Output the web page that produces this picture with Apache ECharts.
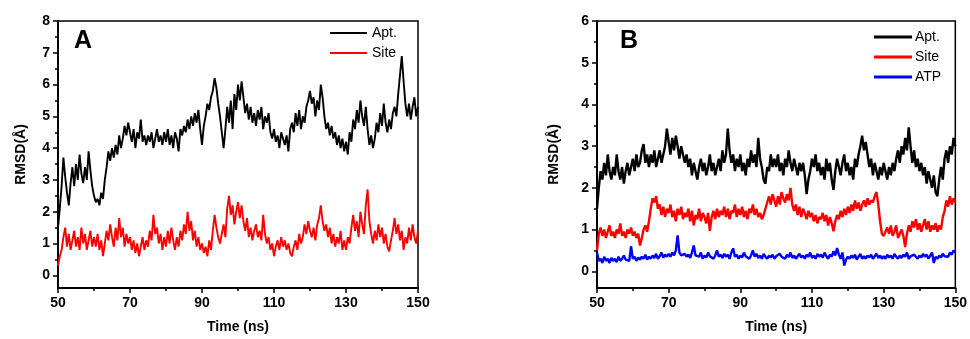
<!DOCTYPE html>
<html><head><meta charset="utf-8">
<script src="https://cdn.jsdelivr.net/npm/echarts@6/dist/echarts.min.js"></script>
<style>html,body{margin:0;padding:0;background:#fff}#c{width:970px;height:339px}</style>
</head><body><div id="c"></div>
<script>
// time sampling (ns), 0.5 ns step from 50 to 150
const tStart = 50, tStep = 0.5, nPts = 201;
const xMajor = [50, 70, 90, 110, 130, 150];
const xMinor = [60, 80, 100, 120, 140];
const yMajorA = [0, 1, 2, 3, 4, 5, 6, 7, 8];
const yMinorA = [0.5, 1.5, 2.5, 3.5, 4.5, 5.5, 6.5, 7.5];
const yMajorB = [0, 1, 2, 3, 4, 5, 6];
const yMinorB = [0.5, 1.5, 2.5, 3.5, 4.5, 5.5];

// Panel A
const aptA = [
1.5,2.1,2.8,3.7,3.1,2.6,2.2,2.9,3.4,2.8,
3.5,3.0,3.8,3.2,2.9,3.4,3.0,3.9,3.3,2.8,
2.5,2.3,2.4,2.2,2.6,2.4,3.0,3.4,3.9,3.6,
4.0,3.7,4.1,3.8,4.4,4.0,4.3,4.7,4.4,4.8,
4.5,4.2,4.6,4.0,4.5,4.3,4.9,4.2,4.4,4.1,
4.4,4.2,4.5,4.0,4.3,4.6,4.2,4.4,4.1,4.5,
4.2,4.6,4.1,4.4,4.0,4.5,4.3,3.9,4.6,4.4,
4.7,4.5,4.9,4.6,5.0,4.7,5.1,4.8,5.2,4.6,
4.1,4.7,5.0,5.4,5.2,5.6,5.8,6.2,5.9,5.4,
5.0,4.5,4.0,4.6,5.3,4.8,5.5,4.6,5.7,5.2,
6.0,5.5,6.1,5.6,5.1,5.4,4.9,5.3,4.8,5.1,
4.7,5.2,4.9,5.3,4.6,5.0,4.8,5.1,4.5,4.3,
4.6,4.2,4.4,4.0,4.5,4.3,4.1,4.4,3.9,4.6,
4.8,4.5,5.1,4.7,5.2,4.6,5.0,4.8,5.3,5.5,
5.8,5.4,5.6,5.0,5.5,5.2,6.0,5.6,5.0,4.6,
4.8,4.4,4.7,4.3,4.5,4.1,4.4,4.0,4.3,3.9,
4.2,3.8,4.5,4.2,4.9,4.6,5.2,4.8,5.5,5.0,
4.7,5.3,4.6,4.1,4.4,4.0,4.3,4.8,4.5,5.1,
4.7,5.4,4.8,4.5,4.9,4.6,5.1,5.3,5.0,5.7,
6.3,6.9,6.1,5.4,5.0,5.4,4.9,5.3,5.6,5.0,
5.3];
const siteA = [
0.3,0.6,0.8,1.2,1.5,0.9,1.3,0.8,1.1,1.4,
0.9,1.2,0.8,1.5,1.0,1.3,0.8,1.1,1.4,0.9,
1.2,0.9,1.3,0.8,1.1,0.6,1.0,1.4,1.1,1.6,
1.2,0.9,1.5,1.1,1.8,1.2,1.5,0.9,1.3,1.0,
1.2,0.8,1.1,0.7,1.0,0.6,0.9,1.2,0.8,1.1,
0.9,1.4,1.1,1.9,1.3,1.5,1.0,1.3,0.8,1.2,
0.9,1.4,1.0,1.5,1.1,0.8,1.2,0.9,1.4,1.1,
1.6,1.3,2.0,1.4,1.7,1.1,1.4,0.9,1.2,0.8,
1.0,0.7,0.9,0.6,1.1,0.8,1.4,1.9,1.5,1.2,
1.0,1.3,1.6,1.2,2.1,2.5,1.9,2.2,1.6,2.0,
2.3,1.8,2.2,1.7,1.4,1.8,1.2,1.5,1.1,1.4,
1.6,1.2,1.4,1.1,1.9,1.3,1.0,1.2,0.8,1.0,
0.6,0.9,1.1,0.8,1.2,0.9,1.1,0.8,1.0,0.7,
0.6,0.9,1.1,0.8,1.3,1.0,1.2,1.6,1.3,1.7,
1.4,1.2,1.5,1.1,1.6,1.8,2.2,1.7,1.4,1.6,
1.2,1.5,1.0,1.3,0.9,1.2,1.0,1.4,0.8,1.1,
0.8,1.2,1.0,1.5,1.9,1.4,1.7,1.2,2.0,1.6,
1.3,2.2,2.7,1.7,1.3,1.0,1.4,1.1,1.6,1.2,
1.5,1.0,1.3,0.9,0.75,1.1,1.4,1.8,1.3,1.6,
1.1,1.4,0.8,1.2,1.0,1.5,1.1,1.6,1.2,1.0,
1.4];

// Panel B
const aptB = [
1.5,2.0,2.4,2.2,2.6,2.3,2.8,2.4,2.2,2.5,
2.3,2.8,2.4,2.2,2.5,2.1,2.4,2.6,2.3,2.5,
2.7,2.4,2.8,2.5,2.6,2.9,3.05,2.6,2.8,2.5,
2.8,2.6,2.9,2.5,2.7,2.9,2.6,2.8,3.0,3.42,
3.1,2.8,3.2,2.9,3.25,3.0,2.7,3.0,2.8,2.6,
2.8,2.5,2.7,2.3,2.6,2.4,2.2,2.5,2.7,2.4,
2.6,2.3,2.5,2.8,2.4,2.6,2.3,2.5,2.7,2.4,
2.9,2.6,2.8,3.42,2.9,2.6,2.8,2.4,2.7,2.5,
2.8,2.4,2.6,2.3,2.7,2.5,2.9,2.6,2.8,2.5,
3.2,2.7,2.5,2.2,2.1,2.5,2.4,2.8,2.5,2.7,
2.5,2.8,2.4,2.6,2.3,2.7,2.5,2.9,2.6,2.4,
2.7,2.5,2.3,2.6,2.4,2.6,2.3,1.85,2.2,2.4,
2.7,2.5,2.8,2.4,2.6,2.3,2.5,2.2,2.7,2.4,
2.6,2.2,1.95,2.4,2.7,2.5,2.3,2.6,2.8,2.4,
2.6,2.3,2.5,2.2,2.7,2.5,2.8,3.0,3.25,2.9,
3.1,2.8,2.5,2.7,2.3,2.6,2.4,2.2,2.5,2.3,
2.6,2.4,2.2,2.5,2.3,2.6,2.4,2.7,2.9,2.6,
3.0,2.8,3.2,2.9,3.45,3.0,2.6,2.9,2.5,2.7,
2.4,2.6,2.3,2.5,2.1,2.4,2.2,2.0,2.3,1.9,
1.8,2.2,2.5,2.2,2.7,2.9,2.6,3.0,2.8,3.2,
3.0];
const siteB = [
0.5,0.9,1.05,0.85,1.0,0.8,0.95,1.1,0.85,0.95,
0.8,1.0,0.9,1.15,0.85,0.95,0.8,1.0,0.9,1.05,
0.85,0.95,0.8,0.9,0.62,0.8,1.0,1.1,0.95,1.2,
1.5,1.75,1.65,1.8,1.5,1.6,1.35,1.55,1.3,1.5,
1.4,1.6,1.3,1.45,1.2,1.5,1.35,1.55,1.25,1.4,
1.3,1.5,1.2,1.45,1.1,1.35,1.25,1.5,1.2,1.4,
1.3,1.15,1.4,0.97,1.3,1.45,1.25,1.5,1.3,1.45,
1.35,1.55,1.3,1.5,1.25,1.45,1.4,1.6,1.3,1.5,
1.35,1.55,1.3,1.45,1.25,1.5,1.4,1.6,1.35,1.5,
1.3,1.4,1.25,1.35,1.5,1.65,1.8,1.6,1.85,1.7,
1.55,1.8,1.6,1.9,1.75,1.65,1.85,1.7,2.0,1.6,
1.45,1.6,1.35,1.55,1.3,1.5,1.4,1.25,1.45,1.3,
1.4,1.2,1.35,1.15,1.3,1.25,1.4,1.2,1.35,1.1,
1.3,1.15,0.96,1.2,1.35,1.25,1.45,1.3,1.5,1.35,
1.55,1.4,1.6,1.45,1.7,1.5,1.65,1.45,1.6,1.7,
1.55,1.75,1.6,1.7,1.65,1.8,1.9,1.6,1.2,0.9,
0.85,0.95,1.05,0.9,1.1,0.85,0.95,1.1,0.8,0.9,
1.0,0.85,0.58,0.9,1.1,0.95,1.2,1.05,1.25,1.0,
1.15,0.95,1.1,1.25,1.0,1.2,0.95,1.1,1.0,1.15,
0.95,1.1,1.0,1.3,1.45,1.7,1.55,1.8,1.6,1.75,
1.65];
const atpB = [
0.45,0.25,0.3,0.2,0.35,0.25,0.3,0.2,0.32,0.25,
0.3,0.22,0.35,0.25,0.3,0.38,0.28,0.32,0.25,0.6,
0.3,0.35,0.25,0.33,0.28,0.35,0.3,0.4,0.28,0.35,
0.3,0.38,0.32,0.42,0.3,0.36,0.45,0.33,0.4,0.35,
0.42,0.35,0.45,0.38,0.5,0.86,0.45,0.38,0.35,0.42,
0.35,0.4,0.32,0.45,0.62,0.38,0.42,0.35,0.45,0.3,
0.38,0.33,0.45,0.36,0.4,0.3,0.38,0.5,0.35,0.4,
0.32,0.42,0.35,0.4,0.3,0.45,0.55,0.35,0.4,0.3,
0.38,0.33,0.45,0.36,0.4,0.3,0.38,0.5,0.35,0.42,
0.32,0.38,0.3,0.42,0.35,0.3,0.38,0.33,0.4,0.3,
0.36,0.32,0.42,0.35,0.38,0.3,0.4,0.34,0.45,0.32,
0.38,0.3,0.36,0.42,0.33,0.38,0.3,0.4,0.35,0.45,
0.32,0.38,0.3,0.42,0.35,0.4,0.33,0.45,0.36,0.3,
0.4,0.35,0.48,0.38,0.56,0.4,0.3,0.45,0.14,0.28,
0.35,0.3,0.38,0.32,0.4,0.28,0.35,0.42,0.3,0.36,
0.3,0.38,0.33,0.4,0.3,0.36,0.42,0.32,0.38,0.3,
0.36,0.3,0.4,0.33,0.38,0.3,0.42,0.35,0.3,0.38,
0.32,0.4,0.35,0.45,0.3,0.36,0.32,0.4,0.35,0.3,
0.38,0.33,0.42,0.35,0.4,0.3,0.38,0.45,0.2,0.35,
0.3,0.38,0.33,0.42,0.36,0.4,0.35,0.45,0.4,0.5,
0.45];

const times = Array.from({length: nPts}, (_, i) => tStart + i * tStep);
const pairs = arr => times.map((t, i) => [t, arr[i]]);

const FONT = '"Liberation Sans", Arial, sans-serif';
const labelStyle = {color: '#000', fontFamily: FONT, fontWeight: 'bold', fontSize: 14};

function xAxes(gi) {
  return [
    {type: 'value', gridIndex: gi, position: 'bottom', min: 50, max: 150,
     name: 'Time (ns)', nameLocation: 'middle', nameGap: 32,
     nameTextStyle: {color: '#000', fontFamily: FONT, fontWeight: 'bold', fontSize: 14},
     axisLine: {show: true, onZero: false, lineStyle: {color: '#000', width: 2}},
     axisTick: {show: true, inside: false, length: 5, customValues: xMajor, lineStyle: {color: '#000', width: 1.5}},
     axisLabel: Object.assign({show: true, margin: 8, customValues: xMajor}, labelStyle),
     splitLine: {show: false}},
    {type: 'value', gridIndex: gi, position: 'bottom', offset: 0, min: 50, max: 150,
     axisLine: {show: false, onZero: false},
     axisTick: {show: true, inside: false, length: 3, customValues: xMinor, lineStyle: {color: '#000', width: 1.5}},
     axisLabel: {show: false}, splitLine: {show: false}}
  ];
}
function yAxes(gi, max, major, minor, nameGap) {
  return [
    {type: 'value', gridIndex: gi, position: 'left', min: -0.4, max: max,
     name: 'RMSD(Å)', nameLocation: 'middle', nameGap: nameGap,
     nameTextStyle: {color: '#000', fontFamily: FONT, fontWeight: 'bold', fontSize: 14},
     axisLine: {show: true, onZero: false, lineStyle: {color: '#000', width: 2}},
     axisTick: {show: true, inside: false, length: 5, customValues: major, lineStyle: {color: '#000', width: 1.5}},
     axisLabel: Object.assign({show: true, margin: 8, customValues: major}, labelStyle),
     splitLine: {show: false}},
    {type: 'value', gridIndex: gi, position: 'left', offset: 0, min: -0.4, max: max,
     axisLine: {show: false, onZero: false},
     axisTick: {show: true, inside: false, length: 3, customValues: minor, lineStyle: {color: '#000', width: 1.5}},
     axisLabel: {show: false}, splitLine: {show: false}}
  ];
}

const chart = echarts.init(document.getElementById('c'), null, {renderer: 'canvas'});
const lineSeries = (name, data, xi, yi, color, w) => ({
  type: 'line', name: name, data: pairs(data), xAxisIndex: xi, yAxisIndex: yi,
  showSymbol: false, symbol: 'none', animation: false,
  lineStyle: {color: color, width: w}, itemStyle: {color: color}
});

chart.setOption({
  animation: false,
  backgroundColor: '#fff',
  grid: [
    {left: 58, top: 21, width: 360, height: 267, show: true, borderColor: '#000', borderWidth: 1.5},
    {left: 597, top: 21, width: 359, height: 267, show: true, borderColor: '#000', borderWidth: 1.5}
  ],
  xAxis: [...xAxes(0), ...xAxes(1)],
  yAxis: [...yAxes(0, 8, yMajorA, yMinorA, 30), ...yAxes(1, 6, yMajorB, yMinorB, 36)],
  legend: [
    {left: 330, top: 26, orient: 'vertical', padding: 0, itemGap: 6, itemWidth: 37, itemHeight: 2,
     icon: 'rect',
     data: ['Apt.', 'Site'], selectedMode: false,
     textStyle: {color: '#000', fontFamily: FONT, fontSize: 14, padding: [0, 0, 0, 0]}},
    {left: 874, top: 30, orient: 'vertical', padding: 0, itemGap: 6, itemWidth: 38, itemHeight: 3,
     icon: 'rect',
     data: ['Apt.', 'Site', 'ATP'], selectedMode: false,
     textStyle: {color: '#000', fontFamily: FONT, fontSize: 14, padding: [0, 0, 0, -2]}}
  ],
  graphic: [
    {type: 'text', left: 74, top: 29, style: {text: 'A', fill: '#000', font: 'bold 25px "Liberation Sans", Arial, sans-serif'}},
    {type: 'text', left: 620, top: 29, style: {text: 'B', fill: '#000', font: 'bold 25px "Liberation Sans", Arial, sans-serif'}}
  ],
  series: [
    lineSeries('Apt.', aptA, 0, 0, '#000000', 1.9),
    lineSeries('Site', siteA, 0, 0, '#ff0000', 1.9),
    lineSeries('Apt.', aptB, 2, 2, '#000000', 2.4),
    lineSeries('Site', siteB, 2, 2, '#ff0000', 2.4),
    lineSeries('ATP', atpB, 2, 2, '#0000ff', 2.4)
  ]
});
</script>
</body></html>
